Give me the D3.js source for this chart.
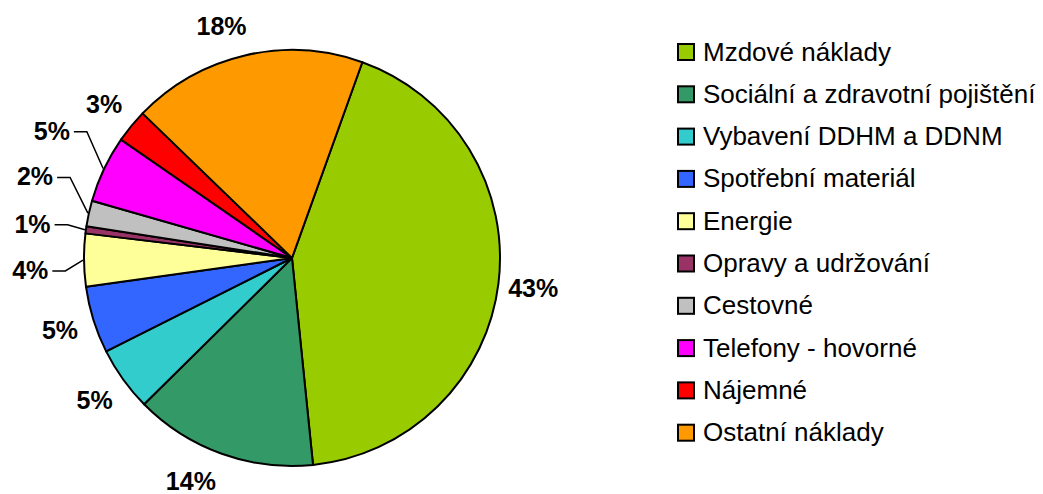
<!DOCTYPE html>
<html>
<head>
<meta charset="utf-8">
<script src="https://cdn.jsdelivr.net/npm/d3@7"></script>
<style>
  html, body { margin: 0; padding: 0; background: #fff; }
  svg { display: block; }
  text { font-family: "Liberation Sans", Arial, sans-serif; }
</style>
</head>
<body>
<svg id="chart" width="1043" height="494"></svg>
<script>
// ---- data ----
const categories = [
  "Mzdové náklady",
  "Sociální a zdravotní pojištění",
  "Vybavení DDHM a DDNM",
  "Spotřební materiál",
  "Energie",
  "Opravy a udržování",
  "Cestovné",
  "Telefony - hovorné",
  "Nájemné",
  "Ostatní náklady"
];
const values = [42.9, 14.2, 5.0, 5.2, 4.1, 0.55, 2.0, 5.2, 2.6, 18.25];
const colors = ["#99CC00", "#339966", "#33CCCC", "#3366FF", "#FFFF99",
                "#993366", "#C0C0C0", "#FF00FF", "#FF0000", "#FF9900"];

// ---- layout ----
const W = 1043, H = 494;
const cx = 292, cy = 258, R = 208;
const deg = Math.PI / 180;
const startDeg = 19.76;
const labelRadius = 243;
// label placement tweaks (Excel moved some labels; angles in degrees)
const labelLayout = {
  1: { angle: 204.4, r: 244.8 },
  9: { angle: 343.1, r: 242.4 },
  4: { angle: 267.4, r: 262.0, leader: true },
  5: { angle: 277.5, r: 261.7, leader: true },
  6: { angle: 287.6, r: 269.6, leader: true },
  7: { angle: 297.9, r: 271.8, leader: true }
};

const svg = d3.select("#chart");
const total = d3.sum(values);

const pie = d3.pie().sort(null).value(d => d)
  .startAngle(startDeg * deg).endAngle(startDeg * deg + 2 * Math.PI);
const arcs = pie(values);
const arc = d3.arc().innerRadius(0).outerRadius(R);

const g = svg.append("g").attr("transform", `translate(${cx},${cy})`);
g.selectAll("path.slice").data(arcs).enter().append("path")
  .attr("class", "slice")
  .attr("d", arc)
  .attr("fill", (d, i) => colors[i])
  .attr("stroke", "#000")
  .attr("stroke-width", 2)
  .attr("stroke-linejoin", "round");

const pct = d3.format(".0%");
const polar = (a, r) => [r * Math.sin(a), -r * Math.cos(a)];

arcs.forEach((d, i) => {
  const mid = (d.startAngle + d.endAngle) / 2;
  const lay = labelLayout[i] || {};
  const a = lay.angle !== undefined ? lay.angle * deg : mid;
  const r = lay.r !== undefined ? lay.r : labelRadius;
  const [lx, ly] = polar(a, r);
  const t = g.append("text")
    .attr("x", lx).attr("y", ly + 9)
    .attr("text-anchor", "middle")
    .attr("font-size", 25)
    .attr("font-weight", "bold")
    .attr("fill", "#000")
    .text(pct(Math.round(d.data) / 100));
  if (lay.leader) {
    const w = t.node().getComputedTextLength();
    const x0 = lx + w / 2 + 4;
    const y0 = ly + 1;
    const [ex, ey] = polar(mid, R + 1);
    g.append("polyline")
      .attr("points", `${x0},${y0} ${x0 + 13},${y0} ${ex},${ey}`)
      .attr("fill", "none")
      .attr("stroke", "#000")
      .attr("stroke-width", 1.5);
  }
});

// ---- legend ----
const legendX = 678, legendY0 = 44, legendStep = 42.3, box = 16;
const lg = svg.append("g");
categories.forEach((c, i) => {
  const y = legendY0 + i * legendStep;
  lg.append("rect")
    .attr("x", legendX).attr("y", y)
    .attr("width", box).attr("height", box)
    .attr("fill", colors[i])
    .attr("stroke", "#000").attr("stroke-width", 2);
  lg.append("text")
    .attr("x", legendX + 25).attr("y", y + box + 0.5)
    .attr("font-size", 26)
    .attr("fill", "#000")
    .text(c);
});
</script>
</body>
</html>
